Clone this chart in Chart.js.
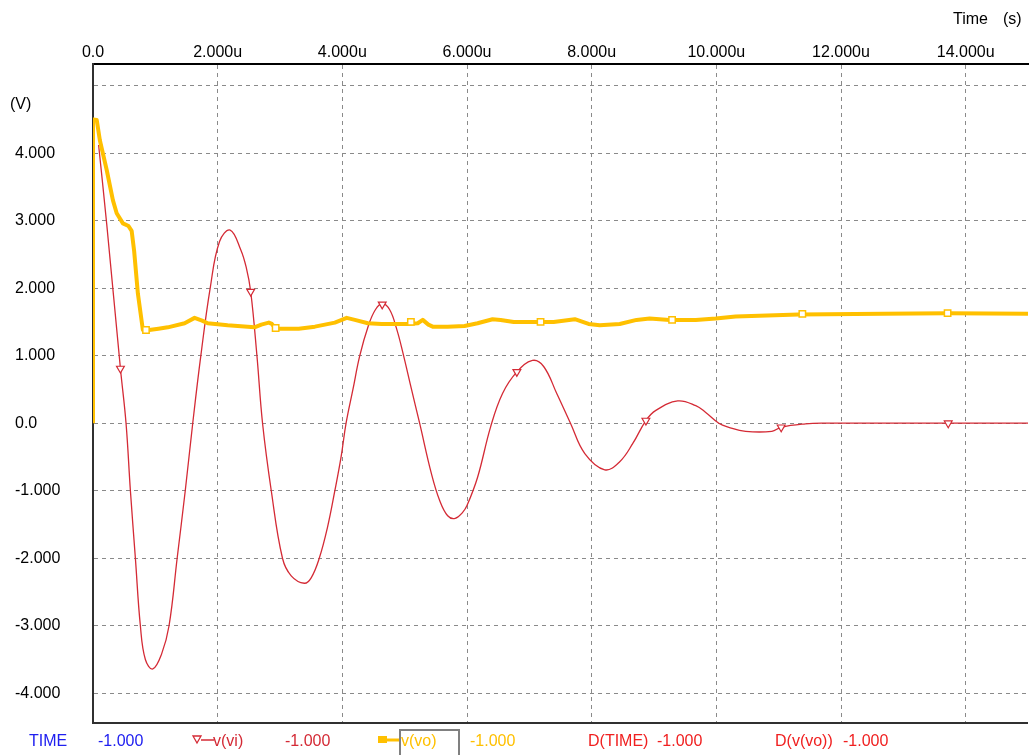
<!DOCTYPE html>
<html>
<head>
<meta charset="utf-8">
<script src="https://cdn.jsdelivr.net/npm/chart.js@4.4.1/dist/chart.umd.min.js"></script>
<style>
    body { margin: 0; background: #ffffff; }
    #wrap { position: relative; width: 1034px; height: 755px; overflow: hidden;
            font-family: "Liberation Sans", Arial, sans-serif; font-size: 16px; }
    #wrap canvas { position: absolute; left: 0; top: 0; }
    .lbl { position: absolute; white-space: pre; line-height: 19px; }
    .blue { color: #2020f0; }
    .red { color: #d42a35; }
    .red2 { color: #f02020; }
    .yel { color: #ffc000; }
</style>
</head>
<body>
<div id="wrap">
    <canvas id="myChart" width="1034" height="755"></canvas>

    <div class="lbl" style="left:953px; top:9px;">Time</div>
    <div class="lbl" style="left:1003px; top:9px;">(s)</div>
    <div class="lbl" style="left:10px; top:94px;">(V)</div>

    <!-- probe legend row -->
    <div class="lbl blue" style="left:29px; top:731px;">TIME</div>
    <div class="lbl blue" style="left:98px; top:731px;">-1.000</div>
    <svg style="position:absolute; left:191px; top:734px;" width="24" height="12">
        <polygon points="2,2 10,2 6,9" fill="#ffffff" stroke="#d42a35" stroke-width="1.3"/>
        <line x1="10" y1="6" x2="23" y2="6" stroke="#d42a35" stroke-width="1.5"/>
    </svg>
    <div class="lbl red" style="left:213px; top:731px;">v(vi)</div>
    <div class="lbl red" style="left:285px; top:731px;">-1.000</div>
    <svg style="position:absolute; left:377px; top:734px;" width="24" height="12">
        <rect x="1.5" y="2.5" width="8" height="6" fill="#ffc000" stroke="#ffc000"/>
        <line x1="9" y1="6" x2="24" y2="6" stroke="#ffc000" stroke-width="3"/>
    </svg>
    <div style="position:absolute; left:399px; top:729px; width:57px; height:28px; border:2px solid #808080;"></div>
    <div class="lbl yel" style="left:401px; top:731px;">v(vo)</div>
    <div class="lbl yel" style="left:470px; top:731px;">-1.000</div>
    <div class="lbl red2" style="left:588px; top:731px;">D(TIME)</div>
    <div class="lbl red2" style="left:657px; top:731px;">-1.000</div>
    <div class="lbl red2" style="left:775px; top:731px;">D(v(vo))</div>
    <div class="lbl red2" style="left:843px; top:731px;">-1.000</div>
</div>

<script>
// v(vi) : time in us, voltage in V
var viTime = [0.09, 0.22, 0.44, 0.53, 0.60, 0.68, 0.76, 0.84, 0.96, 1.10, 1.22, 1.35, 1.48, 1.60,
    1.73, 1.88, 2.03, 2.20, 2.37, 2.46, 2.53, 2.63, 2.72, 2.86, 3.04, 3.18, 3.39, 3.50, 3.63,
    3.76, 3.88, 3.98, 4.06, 4.17, 4.28, 4.42, 4.53, 4.64, 4.76, 4.87, 4.97, 5.11, 5.24, 5.43,
    5.56, 5.69, 5.81, 5.93, 6.00, 6.17, 6.38, 6.57, 6.80, 7.05, 7.23, 7.44, 7.66, 7.89, 8.21,
    8.45, 8.66, 8.87, 9.03, 9.38, 9.67, 9.83, 10.04, 10.20, 10.47, 10.89, 11.04, 11.43, 11.70, 15.0];
var viVolt = [4.12, 2.95, 0.81, 0, -1.0, -2.0, -3.0, -3.5, -3.64, -3.42, -3.0, -2.0, -1.0, 0,
    1.0, 2.0, 2.69, 2.86, 2.57, 2.30, 1.95, 1.0, 0, -1.0, -2.0, -2.26, -2.37, -2.29, -2.0,
    -1.55, -1.0, -0.5, 0, 0.5, 1.0, 1.45, 1.68, 1.77, 1.68, 1.40, 1.05, 0.50, 0, -0.75,
    -1.14, -1.37, -1.41, -1.32, -1.22, -0.80, -0.05, 0.44, 0.76, 0.93, 0.84, 0.44, 0.0, -0.45, -0.69,
    -0.57, -0.30, 0.04, 0.19, 0.33, 0.26, 0.16, 0.0, -0.06, -0.12, -0.12, -0.06, -0.01, 0, 0];

// v(vo)
var voTime = [0, 0, 0.06, 0.11, 0.22, 0.32, 0.38, 0.48, 0.57, 0.62, 0.66, 0.72, 0.80, 0.90, 1.05,
    1.20, 1.47, 1.63, 1.75, 1.84, 2.16, 2.59, 2.70, 2.82, 2.87, 2.93, 3.30, 3.56, 3.88, 4.07,
    4.20, 4.41, 4.63, 5.05, 5.21, 5.29, 5.38, 5.45, 5.69, 5.96, 6.17, 6.41, 6.54, 6.75, 7.18,
    7.39, 7.73, 7.95, 8.13, 8.45, 8.72, 8.93, 9.25, 9.67, 9.99, 10.31, 11.32, 12.68, 13.71, 15.0];
var voVolt = [0, 4.5, 4.49, 4.19, 3.75, 3.30, 3.11, 2.96, 2.92, 2.85, 2.55, 1.92, 1.38, 1.38, 1.40,
    1.42, 1.48, 1.56, 1.52, 1.48, 1.45, 1.42, 1.46, 1.49, 1.47, 1.40, 1.40, 1.43, 1.49, 1.56,
    1.53, 1.48, 1.47, 1.47, 1.48, 1.53, 1.46, 1.43, 1.43, 1.44, 1.48, 1.54, 1.53, 1.50, 1.50,
    1.50, 1.54, 1.47, 1.45, 1.47, 1.53, 1.55, 1.53, 1.53, 1.55, 1.58, 1.61, 1.62, 1.63, 1.62];

// trace markers
var viMarkTime = [0.44, 2.53, 4.64, 6.80, 8.87, 11.04, 13.72];
var viMarkVolt = [0.81, 1.95, 1.76, 0.76, 0.04, -0.06, 0.0];
var voMarkTime = [0.85, 2.93, 5.10, 7.18, 9.29, 11.38, 13.71];
var voMarkVolt = [1.38, 1.41, 1.50, 1.50, 1.53, 1.62, 1.63];

// axis tick labels
var xTickLabels = ['0.0', '2.000u', '4.000u', '6.000u', '8.000u', '10.000u', '12.000u', '14.000u'];
var yTickLabels = ['-4.000', '-3.000', '-2.000', '-1.000', '0.0', '1.000', '2.000', '3.000', '4.000', ''];


function toPoints(xs, ys) {
    return xs.map(function (x, i) { return { x: x, y: ys[i] }; });
}

var RED = '#d42a35';
var YELLOW = '#ffc000';
var GRID = '#8a8a8a';

// bottom frame line of the plot area
var bottomFrame = {
    id: 'bottomFrame',
    afterDraw: function (chart) {
        var c = chart.ctx, a = chart.chartArea;
        c.save();
        c.strokeStyle = '#303030';
        c.lineWidth = 2;
        c.beginPath();
        c.moveTo(a.left - 1, a.bottom);
        c.lineTo(a.right, a.bottom);
        c.stroke();
        c.restore();
    }
};

Chart.defaults.font.family = '"Liberation Sans", Arial, sans-serif';
Chart.defaults.font.size = 16;
Chart.defaults.color = '#000000';

var ctx = document.getElementById('myChart').getContext('2d');
var myChart = new Chart(ctx, {
    type: 'line',
    data: {
        datasets: [{
            // squares on v(vo), drawn on top
            data: toPoints(voMarkTime, voMarkVolt),
            showLine: false,
            pointStyle: 'rect',
            pointRadius: 4.5,
            pointBorderWidth: 1.5,
            pointBorderColor: YELLOW,
            pointBackgroundColor: '#ffffff'
        }, {
            data: toPoints(voTime, voVolt),
            borderColor: YELLOW,
            borderWidth: 4,
            pointRadius: 0,
            tension: 0,
            borderJoinStyle: 'round'
        }, {
            // triangles on v(vi)
            data: toPoints(viMarkTime, viMarkVolt),
            showLine: false,
            pointStyle: 'triangle',
            rotation: 180,
            pointRadius: 4.5,
            pointBorderWidth: 1.2,
            pointBorderColor: RED,
            pointBackgroundColor: '#ffffff'
        }, {
            data: toPoints(viTime, viVolt),
            borderColor: RED,
            borderWidth: 1.3,
            pointRadius: 0,
            tension: 0.4
        }]
    },
    options: {
        responsive: false,
        animation: false,
        layout: {
            padding: { left: 15, top: 0, right: 0, bottom: 32 }
        },
        scales: {
            x: {
                type: 'linear',
                position: 'top',
                min: 0,
                max: 15,
                afterFit: function (scale) { scale.height = 64; },
                ticks: {
                    stepSize: 2,
                    includeBounds: false,
                    maxRotation: 0,
                    autoSkip: false,
                    padding: 2,
                    callback: function (value, index) { return xTickLabels[index]; }
                },
                grid: {
                    color: GRID,
                    drawTicks: false
                },
                border: {
                    color: '#000000',
                    width: 2,
                    dash: [4, 4]
                }
            },
            y: {
                type: 'linear',
                min: -4.44,
                max: 5.32,
                afterFit: function (scale) { scale.width = 78; },
                ticks: {
                    stepSize: 1,
                    includeBounds: false,
                    crossAlign: 'far',
                    autoSkip: false,
                    callback: function (value, index) { return yTickLabels[index]; }
                },
                grid: {
                    color: GRID,
                    drawTicks: false
                },
                border: {
                    color: '#303030',
                    width: 2,
                    dash: [4, 4]
                }
            }
        },
        plugins: {
            legend: { display: false },
            tooltip: { enabled: false }
        }
    },
    plugins: [bottomFrame]
});
</script>
</body>
</html>
